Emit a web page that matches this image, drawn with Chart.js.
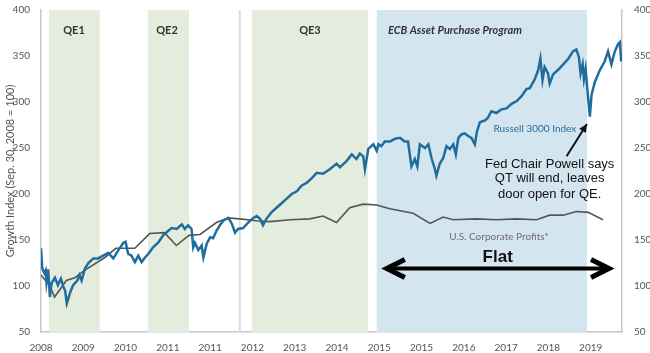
<!DOCTYPE html>
<html>
<head>
<meta charset="utf-8">
<script src="https://cdn.jsdelivr.net/npm/chart.js@4"></script>
<style>
  html, body { margin: 0; padding: 0; background: #fff; }
  #wrap { width: 650px; height: 353px; }
</style>
</head>
<body>
<div id="wrap"><canvas id="qeChart"></canvas></div>
<script>
// x values are read in tick-label units (0 = first "2008" label, 1 = next label, ...)
const xLabels = ["2008", "2009", "2010", "2011", "2011", "2012", "2013", "2014", "2015", "2015", "2016", "2017", "2018", "2019"];

const russellX = [0.00, 0.03, 0.08, 0.11, 0.13, 0.17, 0.21, 0.25, 0.33, 0.40, 0.47, 0.53, 0.57, 0.61, 0.69, 0.76, 0.86, 0.91, 0.96,
  1.04, 1.12, 1.24, 1.35, 1.47, 1.59, 1.71, 1.83, 1.95, 2.00, 2.06, 2.14, 2.22, 2.30, 2.38, 2.46, 2.54, 2.65, 2.77, 2.89,
  3.01, 3.09, 3.21, 3.33, 3.40, 3.48, 3.56, 3.60, 3.64, 3.72, 3.80, 3.84, 3.92, 4.00, 4.07, 4.15, 4.23, 4.31, 4.43, 4.51,
  4.59, 4.66, 4.78, 4.90, 5.02, 5.10, 5.18, 5.25, 5.33, 5.45, 5.57, 5.69, 5.81, 5.93, 6.05, 6.16, 6.28, 6.40, 6.52, 6.67,
  6.83, 6.99, 7.07, 7.23, 7.35, 7.46, 7.54, 7.62, 7.66, 7.74, 7.86, 7.94, 7.98, 8.05, 8.13, 8.25, 8.37, 8.49, 8.60, 8.68,
  8.76, 8.84, 8.90, 8.96, 9.08, 9.16, 9.24, 9.31, 9.35, 9.43, 9.51, 9.59, 9.67, 9.75, 9.81, 9.87, 9.95, 10.02, 10.10, 10.18,
  10.26, 10.31, 10.38, 10.50, 10.57, 10.65, 10.77, 10.89, 11.01, 11.13, 11.25, 11.36, 11.48, 11.56, 11.68, 11.76, 11.81,
  11.86, 11.91, 11.99, 12.03, 12.11, 12.23, 12.35, 12.47, 12.58, 12.66, 12.72, 12.76, 12.81, 12.84, 12.88, 12.91, 12.98,
  13.02, 13.10, 13.22, 13.33, 13.41, 13.49, 13.57, 13.65, 13.69, 13.72];
const russellY = [141, 119, 114, 117, 104, 118, 88, 103, 109, 101, 108, 99, 95, 81, 93, 101, 106, 112, 106,
  119, 125, 130, 130, 133, 136, 130, 139, 147, 148, 135, 133, 126, 133, 126, 131, 135, 142, 147, 155,
  160, 163, 162, 167, 162, 166, 162, 142, 147, 139, 144, 131, 146, 153, 152, 160, 166, 171, 174, 168,
  158, 162, 163, 169, 174, 176, 173, 166, 173, 180, 185, 190, 195, 200, 203, 209, 212, 217, 223, 222,
  227, 233, 229, 236, 243, 238, 244, 241, 227, 249, 254, 247, 254, 252, 257, 257, 260, 261, 257, 257,
  230, 238, 230, 254, 250, 254, 238, 228, 220, 233, 239, 252, 249, 254, 243, 261, 265, 266, 263, 261,
  254, 268, 278, 280, 283, 290, 288, 292, 293, 298, 301, 306, 314, 315, 325, 335, 347,
  324, 338, 331, 320, 330, 335, 341, 347, 355, 357, 349, 331, 341, 325, 336, 319, 284,
  308, 322, 335, 344, 355, 341, 355, 363, 365, 344];

const profitsX = [0.00, 0.21, 0.32, 0.60, 0.80, 1.03, 1.51, 1.77, 2.22, 2.57, 2.92, 3.20, 3.50, 3.76, 4.15, 4.43, 4.70,
  5.10, 5.41, 5.89, 6.36, 6.67, 6.99, 7.30, 7.62, 7.94, 8.25, 8.80, 9.20, 9.51, 9.75, 10.30, 10.77, 11.25, 11.72,
  12.03, 12.35, 12.66, 12.94, 13.29];
const profitsY = [112, 100, 88, 106, 109, 117, 131, 141, 141, 157, 158, 144, 155, 156, 169, 174, 173,
  171, 170, 172, 173, 176, 169, 185, 189, 188, 184, 179, 168, 175, 172, 173, 172, 173, 172,
  177, 177, 181, 180, 172];

// programme periods, same x units
const qeNames = ["QE1", "QE2", "QE3"];
const qeStart = [0.19, 2.53, 4.99];
const qeEnd = [1.39, 3.50, 7.73];
const ecbStart = 7.94;
const ecbEnd = 12.91;
const markerLine = 4.70;

function pts(xs, ys) {
  return xs.map((x, i) => ({ x: x, y: ys[i] }));
}

const axisFont = { family: "Lato", size: 10 };

const bandsPlugin = {
  id: "bands",
  beforeDatasetsDraw(chart) {
    const { ctx, scales: { x, y } } = chart;
    const top = y.getPixelForValue(400), bot = y.getPixelForValue(50);
    ctx.save();
    ctx.fillStyle = "#e4ecdd";
    qeStart.forEach((s, i) => {
      const l = x.getPixelForValue(s), r = x.getPixelForValue(qeEnd[i]);
      ctx.fillRect(l, top, r - l, bot - top);
    });
    ctx.fillStyle = "#d3e5ef";
    const l = x.getPixelForValue(ecbStart), r = x.getPixelForValue(ecbEnd);
    ctx.fillRect(l, top, r - l, bot - top);
    // thin grey divider
    ctx.strokeStyle = "#dcdcdc";
    ctx.lineWidth = 2;
    const mx = x.getPixelForValue(markerLine);
    ctx.beginPath();
    ctx.moveTo(mx, top);
    ctx.lineTo(mx, bot);
    ctx.stroke();
    ctx.restore();
  }
};

const notesPlugin = {
  id: "notes",
  afterDatasetsDraw(chart) {
    const { ctx, scales: { x, y } } = chart;
    const px = v => x.getPixelForValue(v), py = v => y.getPixelForValue(v);
    ctx.save();
    ctx.textAlign = "center";
    ctx.textBaseline = "middle";

    ctx.fillStyle = "#333";
    ctx.font = "bold 11px Lato";
    const qeLabelX = [0.78, 2.98, 6.36];
    qeNames.forEach((n, i) => ctx.fillText(n, px(qeLabelX[i]), py(378)));
    ctx.font = "italic bold 11px Lato";
    ctx.fillText("ECB Asset Purchase Program", px(9.79), py(378));

    ctx.fillStyle = "#2c6c99";
    ctx.font = "10px Lato";
    ctx.fillText("Russell 3000 Index", px(11.68), py(271));

    ctx.fillStyle = "#6e6e6e";
    ctx.font = "10px Lato";
    ctx.fillText("U.S. Corporate Profits*", px(10.83), py(153));

    ctx.fillStyle = "#111";
    ctx.font = "13px 'Liberation Sans', Arial, sans-serif";
    ctx.fillText("Fed Chair Powell says", px(12.03), py(232.5));
    ctx.fillText("QT will end, leaves", px(12.03), py(216.5));
    ctx.fillText("door open for QE.", px(12.03), py(200));

    // pointer arrow to the Dec 2018 low
    const ax0 = px(12.43), ay0 = py(241), ax1 = px(12.91), ay1 = py(276);
    ctx.strokeStyle = "#111";
    ctx.lineWidth = 2;
    ctx.beginPath();
    ctx.moveTo(ax0, ay0);
    ctx.lineTo(ax1, ay1);
    ctx.stroke();
    const ang = Math.atan2(ay1 - ay0, ax1 - ax0);
    ctx.beginPath();
    ctx.moveTo(ax1, ay1);
    ctx.lineTo(ax1 - 9 * Math.cos(ang - 0.45), ay1 - 9 * Math.sin(ang - 0.45));
    ctx.lineTo(ax1 - 9 * Math.cos(ang + 0.45), ay1 - 9 * Math.sin(ang + 0.45));
    ctx.closePath();
    ctx.fillStyle = "#111";
    ctx.fill();

    ctx.font = "bold 17px 'Liberation Sans', Arial, sans-serif";
    ctx.fillText("Flat", px(10.80), py(131));

    // double-headed arrow
    const l = px(8.13), r = px(13.48), ya = py(119);
    ctx.strokeStyle = "#000";
    ctx.lineWidth = 4;
    ctx.beginPath();
    ctx.moveTo(l + 2, ya);
    ctx.lineTo(r - 2, ya);
    ctx.stroke();
    ctx.lineWidth = 5;
    ctx.lineJoin = "miter";
    ctx.beginPath();
    ctx.moveTo(l + 20, ya - 9);
    ctx.lineTo(l + 2, ya);
    ctx.lineTo(l + 20, ya + 9);
    ctx.moveTo(r - 20, ya - 9);
    ctx.lineTo(r - 2, ya);
    ctx.lineTo(r - 20, ya + 9);
    ctx.stroke();
    ctx.restore();
  }
};

const ctxQE = document.getElementById("qeChart").getContext("2d");
new Chart(ctxQE, {
  type: "line",
  data: {
    datasets: [{
      label: "Russell 3000 Index",
      data: pts(russellX, russellY),
      borderColor: "#1f6d9f",
      borderWidth: 2.5,
      pointRadius: 0,
      tension: 0,
    }, {
      label: "U.S. Corporate Profits*",
      data: pts(profitsX, profitsY),
      borderColor: "#555555",
      borderWidth: 1.6,
      pointRadius: 0,
      tension: 0,
    }],
  },
  options: {
    responsive: true,
    maintainAspectRatio: false,
    animation: false,
    layout: { padding: { top: 8, right: 0, bottom: 0, left: 0 } },
    plugins: { legend: { display: false }, tooltip: { enabled: false } },
    scales: {
      x: {
        type: "linear",
        min: 0,
        max: 13.74,
        border: { color: "#c8c8c8", width: 1.5 },
        grid: { display: false },
        ticks: {
          stepSize: 1,
          includeBounds: false,
          autoSkip: false,
          maxRotation: 0,
          padding: 2,
          color: "#555",
          font: axisFont,
          callback: v => xLabels[v] ?? "",
        },
        afterFit: s => { s.height = 21; },
      },
      y: {
        position: "left",
        min: 50,
        max: 400,
        border: { color: "#c8c8c8", width: 1.5 },
        grid: { display: false },
        ticks: { stepSize: 50, padding: 3, color: "#555", font: axisFont },
        title: {
          display: true,
          text: "Growth Index (Sep. 30, 2008 = 100)",
          color: "#555",
          font: { family: "Lato", size: 11 },
          padding: { top: 4, bottom: 0 },
        },
        afterFit: s => { s.width = 41; },
      },
      y2: {
        position: "right",
        min: 50,
        max: 400,
        border: { color: "#c8c8c8", width: 1.5 },
        grid: { display: false },
        ticks: { stepSize: 50, padding: 4, color: "#555", font: axisFont },
        afterFit: s => { s.width = 28; },
      },
    },
  },
  plugins: [bandsPlugin, notesPlugin],
});
</script>
</body>
</html>
